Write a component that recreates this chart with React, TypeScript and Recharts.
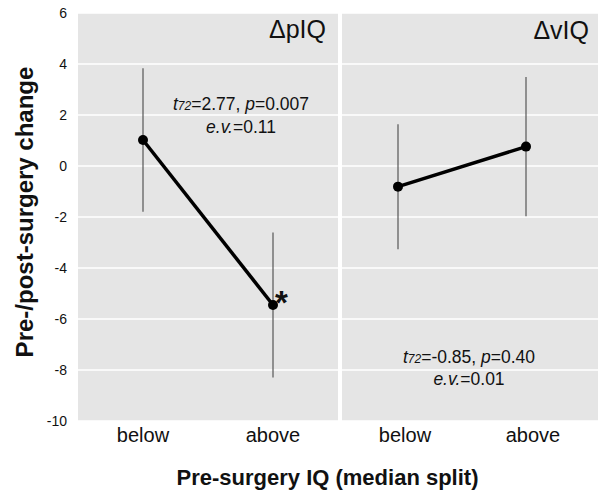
import React from "react";
import {
  ComposedChart,
  Line,
  XAxis,
  YAxis,
  CartesianGrid,
  ErrorBar,
  LabelList,
  Customized,
} from "recharts";

// groups on the x axis (median split of pre-surgery IQ)
const groups = ["below", "above"];

// change in performance IQ: mean and error half-width
const pIQMean = [1.02, -5.45];
const pIQErr = [2.81, 2.84];
const pIQSig = ["", "*"];

// change in verbal IQ
const vIQMean = [-0.81, 0.76];
const vIQErr = [2.45, 2.73];
const vIQSig = ["", ""];

// test statistics printed in each panel
const statDf = "72";
const statT = ["2.77", "-0.85"];
const statP = ["0.007", "0.40"];
const statEV = ["0.11", "0.01"];

const yTicks = [-10, -8, -6, -4, -2, 0, 2, 4, 6];

const FONT = "Arial, 'Liberation Sans', Helvetica, sans-serif";
const PANEL = "#e5e5e5";
const TEXT = "#111";

const pData = groups.map((g, i) => ({
  group: g,
  mean: pIQMean[i],
  err: pIQErr[i],
  sig: pIQSig[i],
}));
const vData = groups.map((g, i) => ({
  group: g,
  mean: vIQMean[i],
  err: vIQErr[i],
  sig: vIQSig[i],
}));

function SigLabel(props: any) {
  const { x, y, value } = props;
  if (!value) return null;
  return (
    <text
      x={x + 2}
      y={y + 9}
      fontFamily={FONT}
      fontSize={33}
      fontWeight="bold"
      fill={TEXT}
    >
      {value}
    </text>
  );
}

function Stats({ x, y1, y2, idx }: { x: number; y1: number; y2: number; idx: number }) {
  return (
    <g fontFamily={FONT} fontSize={17.5} fill={TEXT}>
      <text x={x} y={y1} textAnchor="middle">
        <tspan fontStyle="italic">t</tspan>
        <tspan fontStyle="italic" fontSize={12}>{statDf}</tspan>
        <tspan>={statT[idx]}, </tspan>
        <tspan fontStyle="italic">p</tspan>
        <tspan>={statP[idx]}</tspan>
      </text>
      <text x={x} y={y2} textAnchor="middle">
        <tspan fontStyle="italic">e.v.</tspan>
        <tspan>={statEV[idx]}</tspan>
      </text>
    </g>
  );
}

function LeftOverlay() {
  return (
    <g>
      <text
        x={326}
        y={38}
        textAnchor="end"
        fontFamily={FONT}
        fontSize={25}
        fill={TEXT}
      >
        ΔpIQ
      </text>
      <Stats x={241} y1={110} y2={133} idx={0} />
      <text
        transform="translate(33,212) rotate(-90)"
        textAnchor="middle"
        fontFamily={FONT}
        fontSize={24}
        fontWeight="bold"
        fill={TEXT}
      >
        Pre-/post-surgery change
      </text>
    </g>
  );
}

function RightOverlay() {
  return (
    <g>
      <text
        x={247}
        y={39}
        textAnchor="end"
        fontFamily={FONT}
        fontSize={25}
        fill={TEXT}
      >
        ΔvIQ
      </text>
      <Stats x={127} y1={363} y2={385} idx={1} />
    </g>
  );
}

const tickStyle = { fill: TEXT, fontSize: 20, fontFamily: FONT };

export default function App() {
  return (
    <div style={{ position: "absolute", left: 0, top: 0, width: 598, height: 492, background: "#fff" }}>
      <div style={{ position: "absolute", left: 0, top: 0 }}>
        <ComposedChart
          width={338}
          height={450}
          data={pData}
          margin={{ top: 13, right: 0, bottom: 0, left: 0 }}
        >
          <CartesianGrid
            vertical={false}
            fill={PANEL}
            fillOpacity={1}
            stroke="#ffffff"
            strokeWidth={1.5}
          />
          <XAxis
            dataKey="group"
            scale="band"
            height={29}
            axisLine={false}
            tickLine={false}
            tickMargin={1}
            tick={tickStyle}
          />
          <YAxis
            width={78}
            domain={[-10, 6]}
            ticks={yTicks}
            axisLine={false}
            tickLine={false}
            tickMargin={5}
            tick={{ fill: TEXT, fontSize: 14, fontFamily: FONT }}
          />
          <Line
            dataKey="mean"
            stroke="#000"
            strokeWidth={3.5}
            dot={{ r: 5, fill: "#000", stroke: "#000", strokeWidth: 0 }}
            activeDot={false}
            isAnimationActive={false}
          >
            <ErrorBar dataKey="err" direction="y" width={0} stroke="#555" strokeWidth={1.2} />
            <LabelList dataKey="sig" content={SigLabel} />
          </Line>
          <Customized component={<LeftOverlay />} />
        </ComposedChart>
      </div>
      <div style={{ position: "absolute", left: 342, top: 0 }}>
        <ComposedChart
          width={256}
          height={450}
          data={vData}
          margin={{ top: 13, right: 0, bottom: 0, left: 0 }}
        >
          <CartesianGrid
            vertical={false}
            fill={PANEL}
            fillOpacity={1}
            stroke="#ffffff"
            strokeWidth={1.5}
          />
          <XAxis
            dataKey="group"
            scale="band"
            height={29}
            axisLine={false}
            tickLine={false}
            tickMargin={1}
            padding={{ left: -8, right: 8 }}
            tick={{ ...tickStyle, dx: 7 }}
          />
          <YAxis hide domain={[-10, 6]} ticks={yTicks} />
          <Line
            dataKey="mean"
            stroke="#000"
            strokeWidth={3.5}
            dot={{ r: 5, fill: "#000", stroke: "#000", strokeWidth: 0 }}
            activeDot={false}
            isAnimationActive={false}
          >
            <ErrorBar dataKey="err" direction="y" width={0} stroke="#555" strokeWidth={1.2} />
            <LabelList dataKey="sig" content={SigLabel} />
          </Line>
          <Customized component={<RightOverlay />} />
        </ComposedChart>
      </div>
      <div
        style={{
          position: "absolute",
          left: 57,
          top: 467,
          width: 541,
          textAlign: "center",
          fontFamily: FONT,
          fontSize: 22,
          fontWeight: "bold",
          lineHeight: "22px",
          color: TEXT,
          whiteSpace: "nowrap",
        }}
      >
        Pre-surgery IQ (median split)
      </div>
    </div>
  );
}
